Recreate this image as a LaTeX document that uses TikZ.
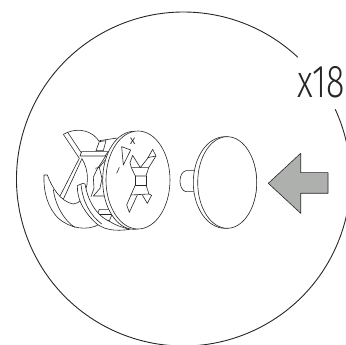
\documentclass[tikz,border=0pt]{standalone}
\usepackage{fontspec}
\setmainfont{Carlito}
\newfontfamily\countfont{Fira Sans Light}
\usepackage{tikz}
\usepackage{xcolor}
\definecolor{arrowgray}{HTML}{AEB0AE}
\definecolor{inkgray}{HTML}{262626}

\begin{document}
\begin{tikzpicture}[x=1pt,y=-1pt,
  outline/.style={draw=inkgray,line width=0.9pt},
  thin part/.style={draw=inkgray,line width=0.6pt,line join=round,fill=white},
  thin line/.style={draw=inkgray,line width=0.6pt,line join=round},
  count label/.style={font=\countfont\fontsize{46}{46}\selectfont,text=inkgray,inner sep=0pt,xscale=0.74}]

  \clip (0,0) rectangle (346,345);

  \draw[outline] ([shift={(-24.7:167)}]183.5,179) arc[start angle=-24.7,end angle=313.2,radius=167];
  \node[count label] (count) at (321,82) {x18};

  % push arrow
  \path[thin part,fill=arrowgray] (268.3,183.3) -- (300.7,153.3) -- (300.7,172.7) -- (328,172.7)
    -- (328,193.3) -- (300.7,193.3) -- (300.7,213.3) -- cycle;

  % cover cap
  \path[thin part] (194,170.7) -- (186,170.7) .. controls (178,172) and (178,190) .. (186,191.7) -- (194,191.7);
  \path[thin part] (225,182.5) ellipse [x radius=31.7,y radius=45.8];
  \path[thin part] (227.2,182.5) ellipse [x radius=29.5,y radius=45.8];

  % cam fitting, in crop units
  \begin{scope}[shift={(30,90)},x=0.3333pt,y=-0.3333pt]
    % back wing
    \draw[thin line] (113,127) .. controls (150,112) and (190,125) .. (208,155);
    \draw[thin line] (100,133) -- (113,127) -- (155,190);
    \draw[thin line] (100,133) -- (148,205) -- (88,322);
    \draw[thin line] (155,208) -- (98,332);
    \draw[thin line] (155,205) .. controls (178,240) and (180,295) .. (150,330);
    % middle blocks
    \path[thin part] (208,155) -- (198,182) -- (220,182) -- (228,152) -- cycle;
    \path[thin part] (155,185) -- (235,185) -- (225,198) -- (150,198) -- cycle;
    \draw[thin line] (208,152) -- (262,144);
    \draw[thin line] (228,197) -- (200,240) -- (190,262) -- (192,295) -- (183,320);
    \draw[thin line] (226,210) -- (208,232) -- (216,265) -- (210,295) -- (190,318) -- (224,318);
    \draw[thin line] (196,235) -- (208,232);
    % back crescent
    \path[thin part] (42,255) -- (52,255) .. controls (65,290) and (90,335) .. (130,342)
      .. controls (140,342) and (148,336) .. (155,328)
      .. controls (165,370) and (190,395) .. (210,402)
      .. controls (170,425) and (120,415) .. (85,385) .. controls (55,355) and (40,310) .. (42,255) -- cycle;
    \draw[thin line] (70,298) .. controls (75,345) and (105,395) .. (135,412);
    % lower steps
    \path[thin part] (208,358) -- (247,358) -- (247,372) -- (238,392) -- (208,386) -- (202,372) -- cycle;
    \draw[thin line] (202,372) -- (247,372);
    % front crescent
    \path[thin part] (142,287) -- (158,280) -- (165,282) .. controls (172,325) and (195,375) .. (240,395)
      .. controls (255,405) and (275,412) .. (300,418)
      .. controls (255,425) and (215,420) .. (190,392) .. controls (155,355) and (142,325) .. (142,287) -- cycle;
    \draw[thin line] (153,283) .. controls (158,335) and (180,375) .. (215,402);
    % disc rim and face
    \path[thin part] (312,271) ellipse [x radius=94,y radius=147];
    \path[thin part] (324,270) ellipse [x radius=96,y radius=147];
    % triangle mark and letter
    \draw[thin line] (275,170) -- (302,180) -- (280,225) -- cycle;
    \draw[thin line] (268,232) -- (260,250);
    \node[font=\fontsize{10}{10}\selectfont,text=inkgray,inner sep=0pt] (mark) at (308,155) {X};
    % cross slot
    \draw[thin line] (316,258) -- (304,233) -- (356,233) -- (348,258) -- cycle;
    \draw[thin line] (316,258) -- (316,285) -- (348,285) -- (348,258);
    \draw[thin line] (304,233) -- (300,218) -- (308,196) -- (331,233);
    \draw[thin line] (331,233) -- (353,205) -- (368,178) -- (378,198) -- (356,233);
    \draw[thin line] (353,203) -- (378,198);
    \draw[thin line] (316,285) -- (290,345) -- (298,367) -- (322,315);
    \draw[thin line] (348,285) -- (357,312) -- (365,316) -- (352,340) -- (337,315);
    \draw[thin line] (303,315) -- (357,312);
  \end{scope}
\end{tikzpicture}
\end{document}
